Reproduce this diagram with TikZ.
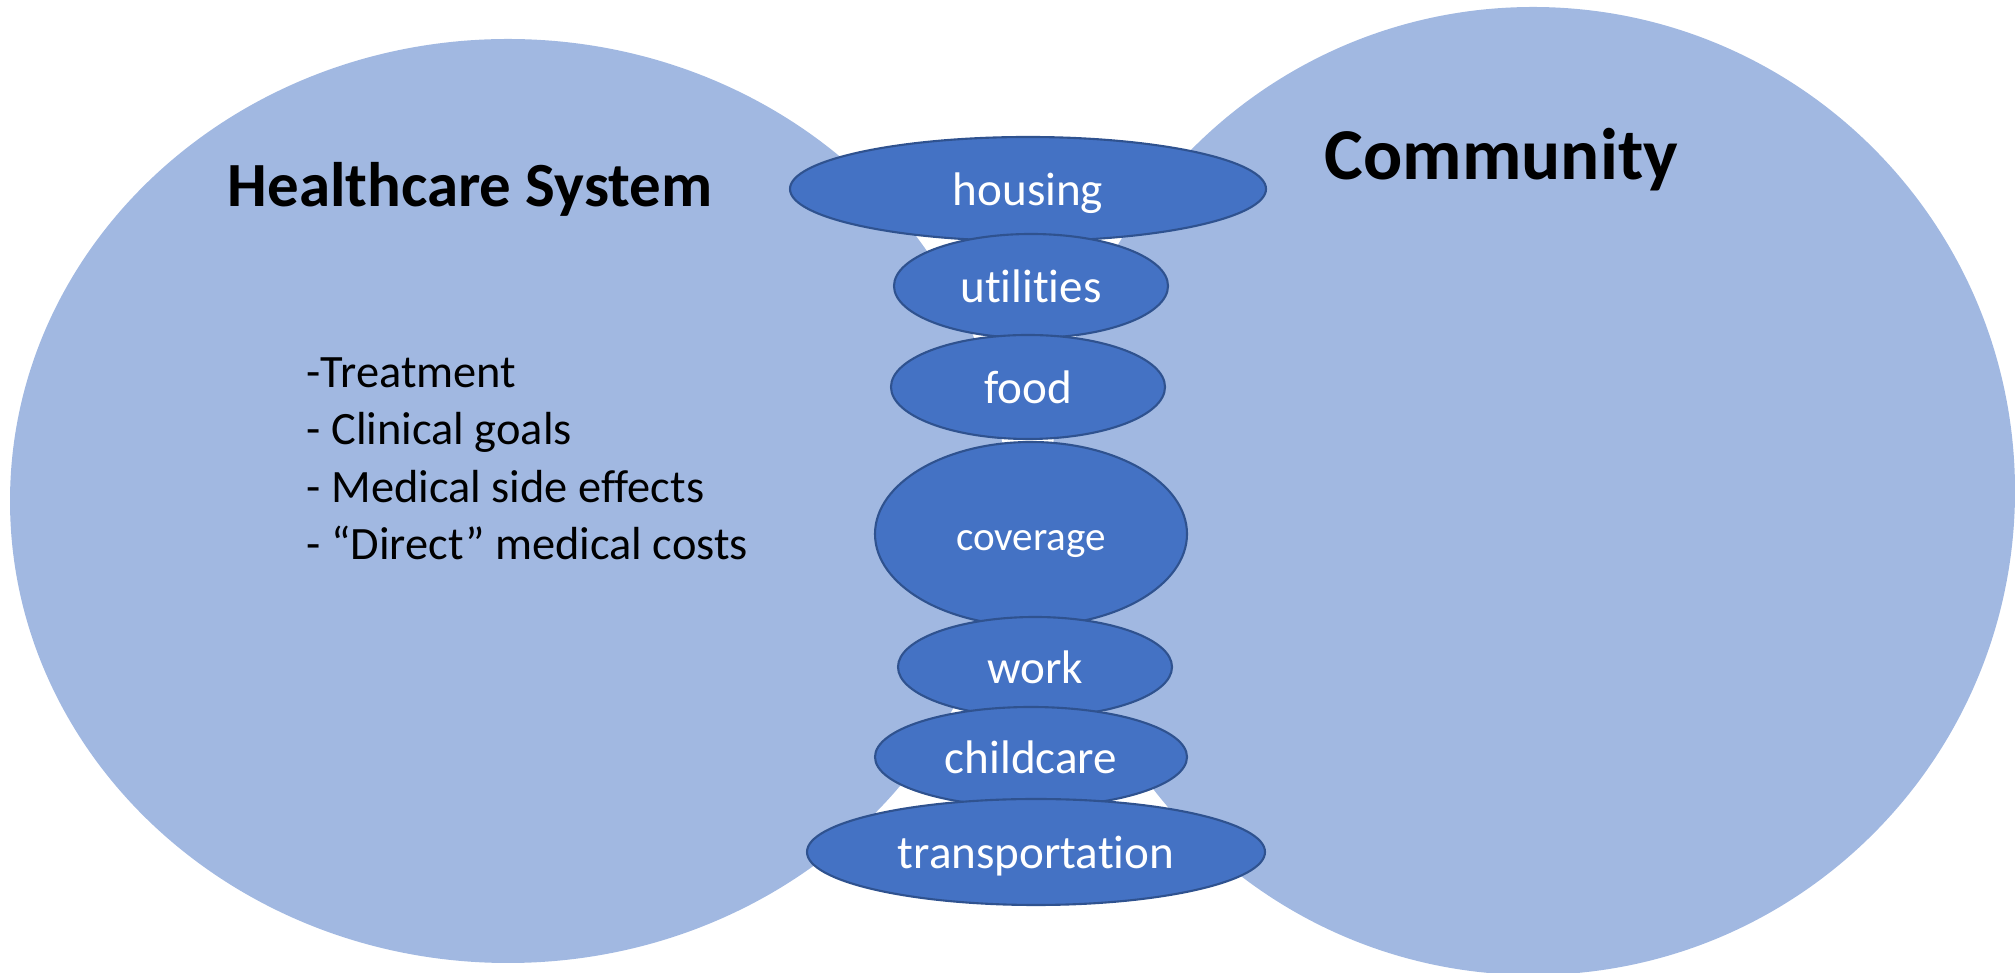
\documentclass[tikz,border=0pt]{standalone}
\usepackage{fontspec}
\setmainfont{Carlito}[Ligatures={TeX,NoCommon}]
\usetikzlibrary{shapes.geometric}

\definecolor{regionblue}{HTML}{A1B8E1}
\definecolor{factorblue}{HTML}{4472C4}
\definecolor{factoredge}{HTML}{2F528F}

\tikzstyle{region}=[fill=regionblue]
\tikzstyle{factor}=[ellipse, fill=factorblue, draw=factoredge, line width=0.6pt, inner sep=0pt, text=white, text height=0.4cm, text depth=0.06cm, font=\fontsize{13.4}{16}\selectfont]
\tikzstyle{heading}=[anchor=base west, inner sep=0pt]

\begin{document}
\begin{tikzpicture}
	\useasboundingbox (0,0) rectangle (20.15,9.73);
	\clip (0,0) rectangle (20.15,9.73);

	% the two big areas
	\fill[region] (5.08,4.72) ellipse [x radius=4.98cm, y radius=4.62cm];
	\fill[region] (15.33,4.82) ellipse [x radius=4.82cm, y radius=4.84cm];

	\node[heading, font=\fontsize{17.9}{21}\selectfont\bfseries] (health) at (2.27,7.66) {Healthcare System};
	\node[heading, font=\fontsize{20.8}{25}\selectfont\bfseries] (community) at (13.24,7.93) {Community};

	\node[anchor=north west, align=left, inner sep=0pt, font=\fontsize{13.2}{16.3}\selectfont] (effects) at (3.06,6.16)
		{-Treatment\\- Clinical goals\\- Medical side effects\\- “Direct” medical costs};

	% stack in the middle, each one drawn over the one above it
	\node[factor, minimum width=4.76cm, minimum height=1.04cm] (housing) at (10.28,7.84) {housing};
	\node[factor, minimum width=2.74cm, minimum height=1.04cm] (utilities) at (10.31,6.87) {utilities};
	\node[factor, minimum width=2.74cm, minimum height=1.04cm] (food) at (10.28,5.86) {food};
	\node[factor, minimum width=3.12cm, minimum height=1.84cm, font=\fontsize{11.7}{14}\selectfont] (coverage) at (10.31,4.39) {coverage};
	\node[factor, minimum width=2.74cm, minimum height=1.00cm] (work) at (10.35,3.06) {work};
	\node[factor, minimum width=3.12cm, minimum height=1.00cm] (childcare) at (10.31,2.16) {childcare};
	\node[factor, minimum width=4.58cm, minimum height=1.06cm] (transport) at (10.36,1.21) {transportation};

\end{tikzpicture}
\end{document}
